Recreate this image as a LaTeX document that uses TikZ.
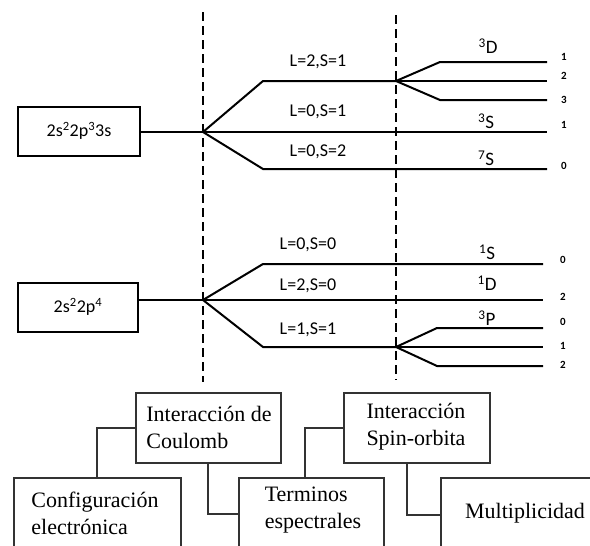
\documentclass[tikz,border=0pt]{standalone}
\usepackage{fontspec}
\setmainfont{Liberation Serif}
\newfontfamily\calib{Carlito}
\begin{document}
\begin{tikzpicture}[x=1pt,y=-1pt,
  cfgbox/.style={draw, line width=2pt, minimum width=122pt, minimum height=49pt, inner sep=0pt, font=\calib\fontsize{18}{20}\selectfont},
  lvl/.style={line width=2pt},
  dashline/.style={line width=2pt, dash pattern=on 9pt off 5pt},
  lsl/.style={font=\calib\fontsize{18}{20}\selectfont, inner sep=0pt},
  term/.style={font=\calib\fontsize{19}{20}\selectfont, inner sep=0pt},
  jval/.style={font=\calib\bfseries\fontsize{11}{12}\selectfont, inner sep=0pt},
  bx/.style={draw=black!80, line width=2pt, inner sep=0pt},
  bxtext/.style={font=\fontsize{22}{27}\selectfont, align=left, inner sep=0pt},
  conn/.style={draw=black!80, line width=2pt}
]
\useasboundingbox (0,0) rectangle (590,546);
\clip (0,0) rectangle (590,546);
\fill[white] (0,0) rectangle (590,546);

% dashed guide lines
\coordinate (d1t) at (203,12);
\coordinate (d1b) at (203,382);
\coordinate (d2t) at (396,15);
\coordinate (d2b) at (396,380);
\draw[dashline] (d1t) -- (d1b);
\draw[dashline] (d2t) -- (d2b);

% configurations
\node[cfgbox] (c1) at (79,131) {2s\textsuperscript{2}2p\textsuperscript{3}3s};
\node[cfgbox, minimum width=120pt] (c2) at (78,307) {2s\textsuperscript{2}2p\textsuperscript{4}};

% upper diagram
\coordinate (b1) at (203,132);
\coordinate (s1) at (396,81);
\draw[lvl] (c1.east |- b1) -- (b1);
\draw[lvl] (b1) -- (263,81) -- (s1);
\draw[lvl] (s1) -- (440,62) -- (547,62);
\draw[lvl] (s1) -- (547,81);
\draw[lvl] (s1) -- (440,100) -- (547,100);
\draw[lvl] (b1) -- (547,132);
\draw[lvl] (b1) -- (263,169) -- (547,169);

\node[lsl] (l1) at (318,62) {L=2,S=1};
\node[lsl] (l2) at (318,112) {L=0,S=1};
\node[lsl] (l3) at (318,152) {L=0,S=2};

\node[term] (t1) at (488,46) {\textsuperscript{3}D};
\node[term] (t2) at (486,121) {\textsuperscript{3}S};
\node[term] (t3) at (486,158) {\textsuperscript{7}S};

\node[jval] (j1) at (564,57) {1};
\node[jval] (j2) at (564,76) {2};
\node[jval] (j3) at (564,100) {3};
\node[jval] (j4) at (564,125) {1};
\node[jval] (j5) at (564,166) {0};

% lower diagram
\coordinate (b2) at (203,300);
\coordinate (s2) at (396,347);
\draw[lvl] (c2.east |- b2) -- (b2);
\draw[lvl] (b2) -- (263,264) -- (543,264);
\draw[lvl] (b2) -- (543,300);
\draw[lvl] (b2) -- (263,347) -- (s2);
\draw[lvl] (s2) -- (437,328) -- (543,328);
\draw[lvl] (s2) -- (543,347);
\draw[lvl] (s2) -- (437,366) -- (543,366);

\node[lsl] (l4) at (308,245) {L=0,S=0};
\node[lsl] (l5) at (308,286) {L=2,S=0};
\node[lsl] (l6) at (308,330) {L=1,S=1};

\node[term] (t4) at (487,252) {\textsuperscript{1}S};
\node[term] (t5) at (487,283) {\textsuperscript{1}D};
\node[term] (t6) at (487,318) {\textsuperscript{3}P};

\node[jval] (j6) at (563,260) {0};
\node[jval] (j7) at (563,297) {2};
\node[jval] (j8) at (563,322) {0};
\node[jval] (j9) at (563,346) {1};
\node[jval] (j10) at (563,365) {2};

% bottom legend boxes
\node[bx, minimum width=145pt, minimum height=70pt] (coul) at (208,428) {};
\node[bxtext] at (209,427) {Interacción de\\Coulomb};
\node[bx, minimum width=146pt, minimum height=70pt] (spin) at (417,428) {};
\node[bxtext] at (416,427) {Interacción\\Spin-orbita};
\node[bx, minimum width=167pt, minimum height=83pt] (conf) at (97,519) {};
\node[bxtext] at (95,513) {Configuración\\electrónica};
\node[bx, minimum width=145pt, minimum height=83pt] (termb) at (311,519) {};
\node[bxtext] at (313,510) {Terminos\\espectrales};
\node[bx, minimum width=170pt, minimum height=83pt] (mult) at (526,519) {};
\node[bxtext] at (525,513) {Multiplicidad};

\draw[conn] (coul.west) -| (conf.north);
\draw[conn] (coul.south) |- ([yshift=5pt]termb.west);
\draw[conn] (spin.west) -| ([xshift=-6pt]termb.north);
\draw[conn] ([xshift=-10pt]spin.south) |- ([yshift=4pt]mult.west);
\end{tikzpicture}
\end{document}
